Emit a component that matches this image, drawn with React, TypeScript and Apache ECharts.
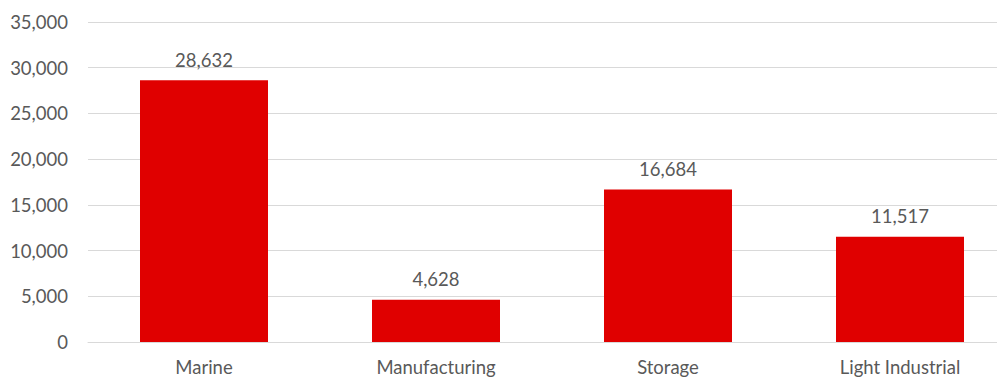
import React, { useEffect, useRef } from "react";
import * as echarts from "echarts";

const categories = ["Marine", "Manufacturing", "Storage", "Light Industrial"];
const values = [28632, 4628, 16684, 11517];
const yMin = 0;
const yMax = 35000;
const yInterval = 5000;

const FONT = "Lato, 'Open Sans', sans-serif";
const TEXT = "#595959";
const FS = 18.5;

export default function App() {
  const ref = useRef<HTMLDivElement>(null);
  useEffect(() => {
    if (!ref.current) return;
    const chart = echarts.init(ref.current, undefined, { renderer: "svg" });
    chart.setOption({
      animation: false,
      grid: { left: 88, top: 22, width: 928, height: 320, containLabel: false },
      xAxis: {
        type: "category",
        data: categories,
        axisLine: { show: true, lineStyle: { color: "#d9d9d9", width: 1 } },
        axisTick: { show: false },
        axisLabel: { color: TEXT, fontFamily: FONT, fontSize: FS, margin: 15 },
      },
      yAxis: {
        type: "value",
        min: yMin,
        max: yMax,
        interval: yInterval,
        axisLine: { show: false },
        axisTick: { show: false },
        splitLine: { lineStyle: { color: "#d9d9d9", width: 1 } },
        axisLabel: {
          color: TEXT,
          fontFamily: FONT,
          fontSize: FS,
          margin: 20,
          formatter: (v: number) => v.toLocaleString("en-US"),
        },
      },
      series: [
        {
          type: "bar",
          data: values,
          barWidth: 128,
          itemStyle: { color: "#e00000" },
          label: {
            show: true,
            position: "top",
            distance: 11,
            color: TEXT,
            fontFamily: FONT,
            fontSize: FS,
            formatter: (p: any) => Number(p.value).toLocaleString("en-US"),
          },
        },
      ],
    });
    return () => chart.dispose();
  }, []);
  return (
    <div style={{ position: "absolute", left: 0, top: 0, width: 997, height: 379, overflow: "hidden", background: "#fff" }}>
      <div ref={ref} style={{ width: 1030, height: 379 }} />
    </div>
  );
}
